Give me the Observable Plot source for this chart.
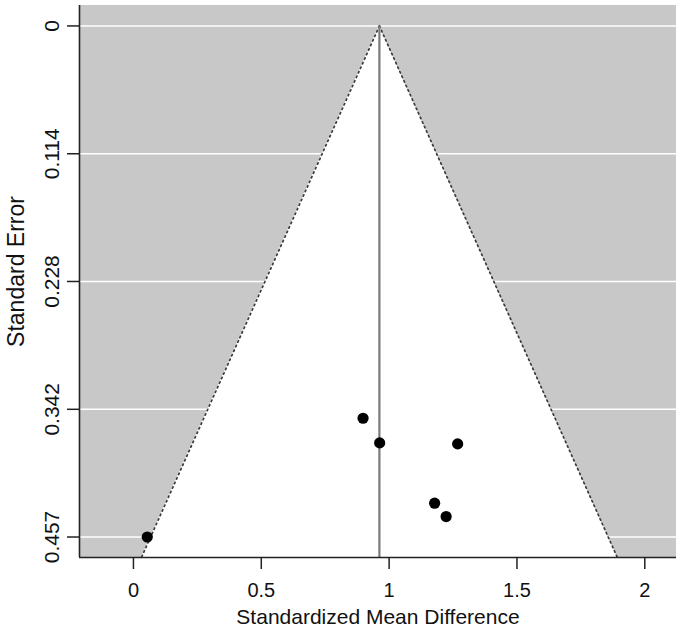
<!DOCTYPE html>
<html>
<head>
<meta charset="utf-8">
<script src="https://cdn.jsdelivr.net/npm/d3@7"></script>
<script src="https://cdn.jsdelivr.net/npm/@observablehq/plot@0.6"></script>
<style>
  html, body { margin: 0; padding: 0; background: #fff; }
  svg { display: block; }
</style>
</head>
<body>
<div id="chart"></div>
<script>
// ---- data ----
const effect = [0.054, 0.898, 0.963, 1.268, 1.178, 1.223];
const stdErr = [0.4566, 0.3505, 0.3725, 0.3734, 0.4264, 0.4383];
const pooled = 0.962;
const zCrit = 1.96;
const xLimits = [-0.211, 2.124];
const yLimits = [-0.01826, 0.4749];
const xTicks = [0, 0.5, 1, 1.5, 2];
const xTickLabels = ["0", "0.5", "1", "1.5", "2"];
const yTicks = [0, 0.1142, 0.2283, 0.3425, 0.4566];
const yTickLabels = ["0", "0.114", "0.228", "0.342", "0.457"];
const xTitle = "Standardized Mean Difference";
const yTitle = "Standard Error";

const studies = effect.map((e, i) => ({ effect: e, se: stdErr[i] }));
const funnel = [{ se: 0 }, { se: yLimits[1] }];
const font = "'Liberation Sans', Arial, Helvetica, sans-serif";

const chart = Plot.plot({
  width: 680,
  height: 632,
  marginLeft: 79,
  marginRight: 4,
  marginTop: 5,
  marginBottom: 75,
  style: { fontFamily: font, background: "#fff" },
  x: { domain: xLimits, axis: null },
  y: { domain: [yLimits[1], yLimits[0]], axis: null },
  marks: [
    // gray background
    Plot.rect([{}], { x1: xLimits[0], x2: xLimits[1], y1: yLimits[0], y2: yLimits[1], fill: "#c8c8c8" }),
    // white grid lines
    Plot.ruleY(yTicks, { stroke: "#ffffff", strokeWidth: 1.6 }),
    // funnel region
    Plot.areaX(funnel, { y: "se", x1: d => pooled - zCrit * d.se, x2: d => pooled + zCrit * d.se, fill: "#ffffff" }),
    // dotted funnel edges
    Plot.line(funnel, { y: "se", x: d => pooled - zCrit * d.se, stroke: "#3a3a3a", strokeWidth: 1.7, strokeDasharray: "1.5,3.5" }),
    Plot.line(funnel, { y: "se", x: d => pooled + zCrit * d.se, stroke: "#3a3a3a", strokeWidth: 1.7, strokeDasharray: "1.5,3.5" }),
    // pooled estimate line
    Plot.ruleX([pooled], { y1: 0, y2: yLimits[1], stroke: "#7a7a7a", strokeWidth: 2.2 }),
    // studies
    Plot.dot(studies, { x: "effect", y: "se", r: 5.6, fill: "#000", stroke: "none" }),
    // axis lines
    Plot.ruleY([yLimits[1]], { x1: xLimits[0], x2: xLimits[1], stroke: "#222", strokeWidth: 1.6 }),
    Plot.ruleX([xLimits[0]], { y1: yLimits[0], y2: yLimits[1], stroke: "#222", strokeWidth: 1.6 }),
    // x axis
    Plot.axisX(xTicks, { anchor: "bottom", tickSize: 12, tickPadding: 13, fontSize: 20, stroke: "#222", strokeWidth: 1.5, tickFormat: (d, i) => xTickLabels[i], label: null, fill: "#111" }),
    // y axis ticks
    Plot.axisY(yTicks, { anchor: "left", tickSize: 12, tickFormat: () => "", stroke: "#222", strokeWidth: 1.5, label: null }),
    // y tick labels (rotated)
    Plot.text(yTicks, { y: d => d, text: (d, i) => yTickLabels[i], frameAnchor: "left", dx: -27, rotate: -90, textAnchor: "middle", lineAnchor: "middle", fontSize: 21, fill: "#111" }),
    // titles
    Plot.text([xTitle], { frameAnchor: "bottom", dy: 60, textAnchor: "middle", lineAnchor: "middle", fontSize: 21, fill: "#111" }),
    Plot.text([yTitle], { frameAnchor: "left", dx: -63, dy: -10, rotate: -90, textAnchor: "middle", lineAnchor: "middle", fontSize: 23, fill: "#111" })
  ]
});

document.getElementById("chart").appendChild(chart);
</script>
</body>
</html>
